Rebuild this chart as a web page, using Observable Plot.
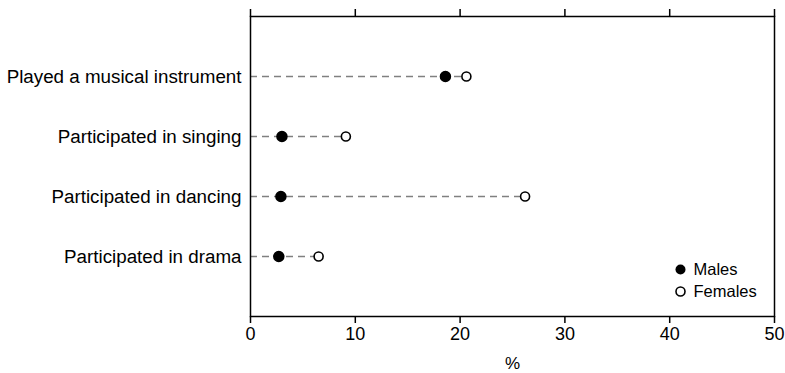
<!DOCTYPE html>
<html>
<head>
<meta charset="utf-8">
<script src="https://cdn.jsdelivr.net/npm/d3@7"></script>
<script src="https://cdn.jsdelivr.net/npm/@observablehq/plot@0.6"></script>
<style>
  html, body { margin: 0; padding: 0; background: #fff; }
  #chart svg { display: block; }
</style>
</head>
<body>
<div id="chart"></div>
<script>
const categories = [
  "Played a musical instrument",
  "Participated in singing",
  "Participated in dancing",
  "Participated in drama"
];
const males = [18.6, 3.0, 2.9, 2.7];
const females = [20.6, 9.1, 26.2, 6.5];
const xTicks = [0, 10, 20, 30, 40, 50];
const legendLabels = ["Males", "Females"];
const xLabel = "%";

const data = categories.map((c, i) => ({ cat: c, male: males[i], female: females[i] }));
const font = "'Liberation Sans', Arial, sans-serif";

const plot = Plot.plot({
  width: 785,
  height: 373,
  marginLeft: 250,
  marginRight: 11,
  marginTop: 16,
  marginBottom: 57,
  style: { fontFamily: font, fontSize: "17px", color: "#000", background: "#fff" },
  x: { domain: [0, 50], ticks: xTicks },
  y: { type: "point", domain: categories, padding: 1 },
  marks: [
    Plot.ruleY(data, { y: "cat", x1: () => 0, x2: "female", stroke: "#808080", strokeWidth: 1.5, strokeDasharray: "7,5" }),
    Plot.frame({ stroke: "#000", strokeWidth: 1.5 }),
    Plot.axisX({ anchor: "top", ticks: xTicks, tickSize: 8, strokeWidth: 1.5, tickFormat: () => "", label: null }),
    Plot.axisX({ anchor: "bottom", ticks: xTicks, tickSize: 7, tickPadding: 4, strokeWidth: 1.5, fontSize: 18, label: null }),
    Plot.text([xLabel], { text: d => d, frameAnchor: "bottom", dy: 47, lineAnchor: "middle", fontSize: 17, fill: "#000" }),
    Plot.axisY({ anchor: "left", tickSize: 0, tickPadding: 9, label: null, fontSize: 18.8 }),
    Plot.dot(data, { x: "male", y: "cat", r: 5, fill: "#000", stroke: "#000" }),
    Plot.dot(data, { x: "female", y: "cat", r: 4.5, fill: "#fff", stroke: "#000", strokeWidth: 1.6 }),
    Plot.dot([legendLabels[0]], { frameAnchor: "bottom-right", dx: -94, dy: -47, r: 5, fill: "#000" }),
    Plot.dot([legendLabels[1]], { frameAnchor: "bottom-right", dx: -94, dy: -25, r: 4.5, fill: "#fff", stroke: "#000", strokeWidth: 1.6 }),
    Plot.text([legendLabels[0]], { text: d => d, frameAnchor: "bottom-right", dx: -81, dy: -47, textAnchor: "start", lineAnchor: "middle", fontSize: 16.5, fill: "#000" }),
    Plot.text([legendLabels[1]], { text: d => d, frameAnchor: "bottom-right", dx: -81, dy: -25, textAnchor: "start", lineAnchor: "middle", fontSize: 16.5, fill: "#000" })
  ]
});
document.getElementById("chart").appendChild(plot);
</script>
</body>
</html>
